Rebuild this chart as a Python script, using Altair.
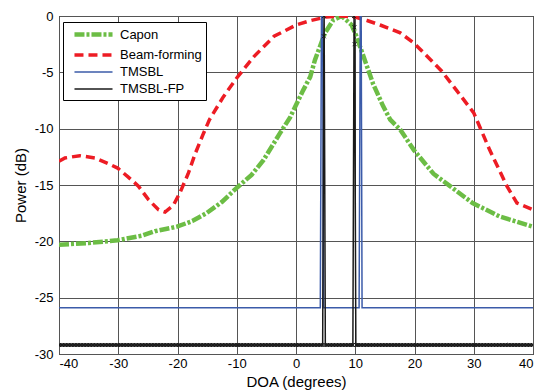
import altair as alt
import pandas as pd
import numpy as np

# ---- data ----
series_names = ["Capon", "Beam-forming", "TMSBL", "TMSBL-FP"]
series_colors = ["#6cbd45", "#ed1c24", "#3b5ba9", "#1a1a1a"]
series_dash = [[10, 2, 3, 2], [9, 5], [1, 0], [1, 0]]
series_width = [4.5, 3.5, 1.5, 1.5]

capon_x = [-40, -35, -30.1, -26, -23.8, -20.1, -17.5, -15.1, -12.5, -10.1, -7.5, -5.5, -2.7, -1.0, 1.2, 2.4,
           3.2, 4.9, 6.3, 7.7, 9.4, 10.2, 11.4, 13.0, 14.7, 15.9, 17.6, 19.9, 23.2, 26.0, 29.8, 34.4, 40]
capon_y = [-20.3, -20.15, -19.9, -19.5, -19.1, -18.7, -18.2, -17.5, -16.5, -15.3, -14.1, -12.8, -10.4, -9.0, -6.6, -5.4,
           -3.9, -1.5, -0.35, 0.0, -0.8, -1.8, -3.6, -6.0, -8.0, -9.2, -10.1, -11.9, -14.0, -15.1, -16.6, -17.8, -18.7]

beam_x = [-40, -39.0, -36.5, -33.9, -31.7, -30.1, -28.3, -26.6, -24.9, -23.2, -22.1, -20.7, -19.6, -18.2, -17.0,
          -15.6, -14.6, -12.3, -10.0, -7.1, -3.7, 0.0, 2.5, 5.0, 7.5, 10.0, 12.0, 14.2, 17.6, 19.9, 22.0, 24.6,
          27.1, 30.0, 32.7, 35.6, 37.3, 40]
beam_y = [-12.9, -12.6, -12.4, -12.6, -13.1, -13.5, -14.3, -15.1, -16.3, -17.2, -17.4, -16.8, -15.7, -14.0, -12.2,
          -10.4, -9.2, -7.2, -5.5, -3.6, -1.8, -0.8, -0.4, -0.1, 0.0, -0.1, -0.4, -0.8, -1.5, -2.4, -3.5, -4.9,
          -6.6, -8.6, -11.9, -15.1, -16.6, -17.2]

tmsbl_x = [-40, 4.1, 4.3, 4.5, 4.65, 10.65, 10.85, 11.0, 11.15, 40]
tmsbl_y = [-25.9, -25.9, 0.0, 0.0, -25.9, -25.9, 0.0, 0.0, -25.9, -25.9]

fp_floor = -29.2
fp_spike_x = [4.5, 4.7, 4.75, 4.95, 9.6, 9.8, 9.85, 9.9, 10.1]
fp_spike_y = [-29.2, -1.8, 0.0, -29.2, -29.2, 0.0, -1.0, -2.5, -29.2]

# sampling grid of the TMSBL-FP floor
grid = np.arange(-40, 40.001, 0.25)
grid = [float(g) for g in grid if not (4.4 < g < 5.05 or 9.5 < g < 10.2)]
fp_x = sorted(grid + fp_spike_x)
lookup = dict(zip(fp_spike_x, fp_spike_y))
fp_y = [lookup.get(x, fp_floor) for x in fp_x]

frames = []
for name, xs, ys in [("Capon", capon_x, capon_y), ("Beam-forming", beam_x, beam_y),
                     ("TMSBL", tmsbl_x, tmsbl_y), ("TMSBL-FP", fp_x, fp_y)]:
    frames.append(pd.DataFrame({"series": name, "x": xs, "y": ys, "i": range(len(xs))}))
df = pd.concat(frames, ignore_index=True)

font = "Liberation Sans"

xenc = alt.X("x:Q", scale=alt.Scale(domain=[-40, 40], nice=False),
             axis=alt.Axis(values=list(range(-40, 41, 10)), labelExpr="'' + datum.value",
                           title="DOA (degrees)", labelPadding=3, titleBaseline="alphabetic",
                           titleY=32))
yenc = alt.Y("y:Q", scale=alt.Scale(domain=[-30, 0], nice=False),
             axis=alt.Axis(values=list(range(-30, 1, 5)), labelExpr="'' + datum.value",
                           title="Power (dB)", labelPadding=6, titlePadding=6))

legend = alt.Legend(title=None, orient="none", legendX=4, legendY=6,
                    strokeColor="black", fillColor="white", padding=4,
                    symbolType="M -0.17 0 L 6.17 0", symbolSize=144, labelFontSize=13, labelFont=font,
                    labelOffset=36, rowPadding=3, labelColor="black")

enc = dict(
    x=xenc, y=yenc, order="i:Q",
    color=alt.Color("series:N", scale=alt.Scale(domain=series_names, range=series_colors), legend=legend),
    strokeDash=alt.StrokeDash("series:N", scale=alt.Scale(domain=series_names, range=series_dash), legend=legend),
    strokeWidth=alt.StrokeWidth("series:N", scale=alt.Scale(type="ordinal", domain=series_names,
                                                            range=series_width), legend=legend),
)

base = alt.Chart(df)
layers = []
for name in series_names:
    layers.append(base.transform_filter(alt.datum.series == name)
                  .mark_line(clip=True, strokeCap="butt").encode(**enc))

xpath = "M -1 -1 L 1 1 M -1 1 L 1 -1"
points = base.transform_filter(alt.datum.series == "TMSBL-FP").mark_point(
    shape=xpath, filled=False, color="#1a1a1a", size=16, strokeWidth=1, opacity=1, clip=True
).encode(x=xenc, y=yenc)

chart = alt.layer(*layers, points).properties(
    width=474, height=338,
    padding={"left": 51, "top": 8, "right": 1, "bottom": 37},
    autosize=alt.AutoSizeParams(type="none"),
).configure_view(stroke="black", strokeWidth=1).configure_axis(
    grid=True, gridColor="#555555", gridWidth=1, ticks=False, domain=False,
    labelFont=font, labelFontSize=13, labelColor="black",
    titleFont=font, titleFontSize=15, titleFontWeight="normal", titleColor="black",
)

chart.save("out.html", embed_options={"renderer": "svg", "actions": False})
